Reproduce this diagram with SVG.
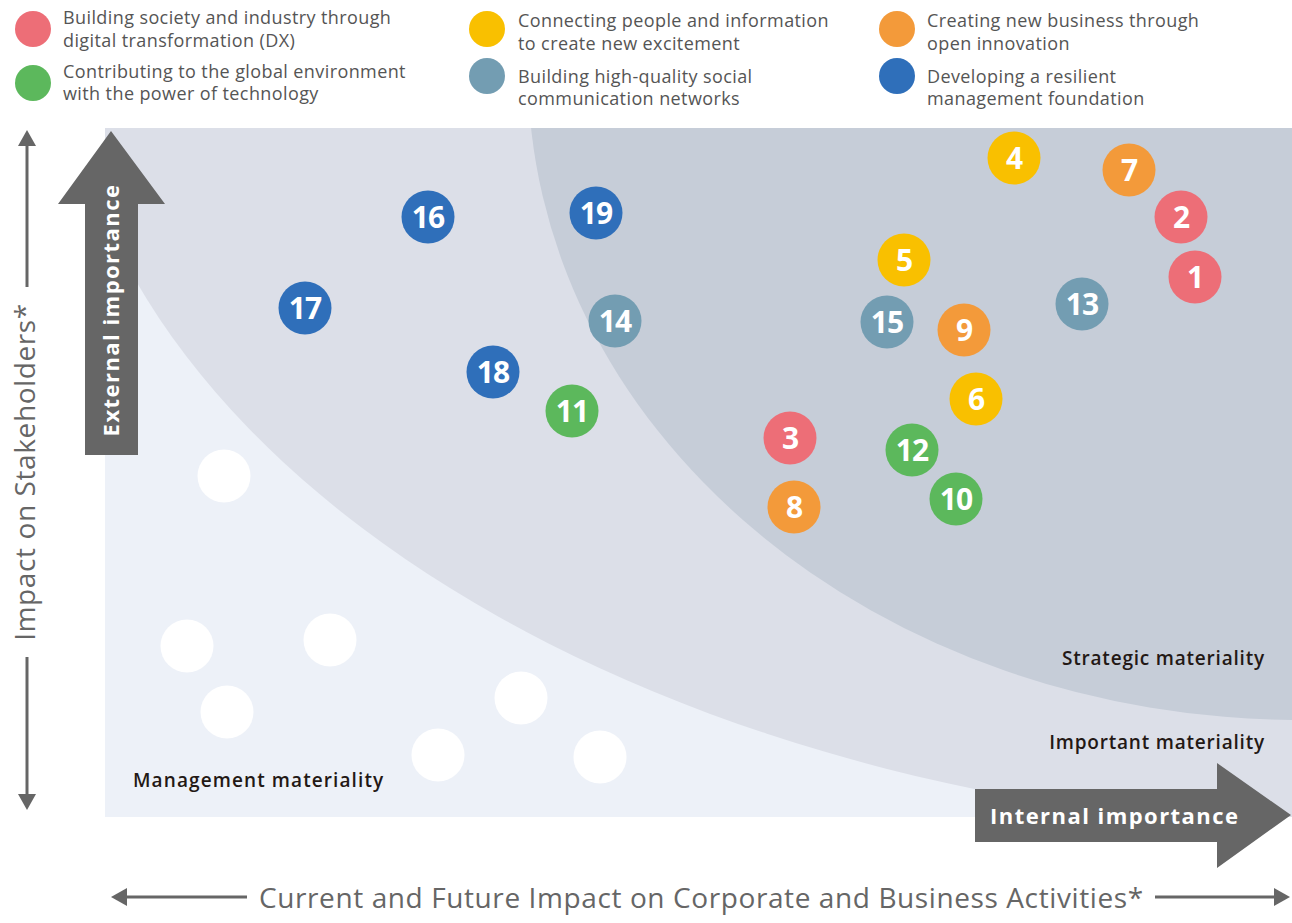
<svg xmlns="http://www.w3.org/2000/svg" width="1292" height="923" viewBox="0 0 1292 923">
<defs>
  <clipPath id="plot"><rect x="105" y="128" width="1187" height="689"/></clipPath>
  <style>
    .leg { font-family: "Open Sans", "Noto Sans", "Liberation Sans", sans-serif; font-size: 18px; fill: #555555; letter-spacing: 0.4px; }
    .axis { font-family: "Open Sans", "Noto Sans", "Liberation Sans", sans-serif; font-size: 28px; fill: #666666; letter-spacing: 0.6px; }
    .zone { font-family: "Open Sans", "Noto Sans", "Liberation Sans", sans-serif; font-size: 19px; font-weight: 600; fill: #231815; letter-spacing: 0.8px; }
    .zone.wide { letter-spacing: 1.1px; }
    .arrtxt { font-family: "Open Sans", "Noto Sans", "Liberation Sans", sans-serif; font-size: 22px; font-weight: 700; fill: #ffffff; letter-spacing: 1.45px; }
    .num { font-family: "Open Sans", "Noto Sans", "Liberation Sans", sans-serif; font-size: 30px; font-weight: 700; fill: #ffffff; text-anchor: middle; letter-spacing: -1px; }
    .dx { fill: #ed6e77; }
    .env { fill: #5cb85c; }
    .ppl { fill: #f9c000; }
    .net { fill: #739db2; }
    .opn { fill: #f39a3a; }
    .mgt { fill: #2f6fba; }
    .wht { fill: #ffffff; }
    .axline { stroke: #666666; stroke-width: 3; fill: none; }
    .head { fill: #666666; }
  </style>
</defs>

<g id="background">
  <rect x="105" y="128" width="1187" height="689" fill="#edf1f8"/>
  <g clip-path="url(#plot)">
    <ellipse cx="1400" cy="0" rx="1343" ry="832" fill="#dcdfe8"/>
    <ellipse cx="1300" cy="70" rx="772" ry="650" fill="#c6cdd8"/>
  </g>
</g>

<g id="legend">
  <g id="legend-dx"><circle cx="33" cy="29" r="18" class="dx"/>
    <text class="leg" x="63" y="24">Building society and industry through</text>
    <text class="leg" x="63" y="47">digital transformation (DX)</text></g>
  <g id="legend-env"><circle cx="33" cy="83" r="18" class="env"/>
    <text class="leg" x="63" y="78">Contributing to the global environment</text>
    <text class="leg" x="63" y="100">with the power of technology</text></g>
  <g id="legend-ppl"><circle cx="487" cy="29" r="18" class="ppl"/>
    <text class="leg" x="518" y="27">Connecting people and information</text>
    <text class="leg" x="518" y="50">to create new excitement</text></g>
  <g id="legend-net"><circle cx="487" cy="76" r="18" class="net"/>
    <text class="leg" x="518" y="83">Building high-quality social</text>
    <text class="leg" x="518" y="105">communication networks</text></g>
  <g id="legend-opn"><circle cx="897" cy="29" r="18" class="opn"/>
    <text class="leg" x="927" y="27">Creating new business through</text>
    <text class="leg" x="927" y="50">open innovation</text></g>
  <g id="legend-mgt"><circle cx="897" cy="76" r="18" class="mgt"/>
    <text class="leg" x="927" y="83">Developing a resilient</text>
    <text class="leg" x="927" y="105">management foundation</text></g>
</g>

<g id="zone-labels">
  <text class="zone" x="1265" y="665" text-anchor="end">Strategic materiality</text>
  <text class="zone" x="1265" y="749" text-anchor="end">Important materiality</text>
  <text class="zone wide" x="133" y="787">Management materiality</text>
</g>

<g id="other-issues">
  <circle cx="224" cy="476" r="26.5" class="wht"/>
  <circle cx="187" cy="646" r="26.5" class="wht"/>
  <circle cx="330" cy="640" r="26.5" class="wht"/>
  <circle cx="227" cy="712" r="26.5" class="wht"/>
  <circle cx="521" cy="698" r="26.5" class="wht"/>
  <circle cx="438" cy="755" r="26.5" class="wht"/>
  <circle cx="600" cy="757" r="26.5" class="wht"/>
</g>

<g id="node-1"><circle cx="1195" cy="277" r="26.5" class="dx"/><text class="num" x="1195" y="288">1</text></g>
<g id="node-2"><circle cx="1181" cy="217" r="26.5" class="dx"/><text class="num" x="1181" y="228">2</text></g>
<g id="node-3"><circle cx="790" cy="438" r="26.5" class="dx"/><text class="num" x="790" y="449">3</text></g>
<g id="node-4"><circle cx="1014" cy="158" r="26.5" class="ppl"/><text class="num" x="1014" y="169">4</text></g>
<g id="node-5"><circle cx="904" cy="260" r="26.5" class="ppl"/><text class="num" x="904" y="271">5</text></g>
<g id="node-6"><circle cx="976" cy="399" r="26.5" class="ppl"/><text class="num" x="976" y="410">6</text></g>
<g id="node-7"><circle cx="1129" cy="170" r="26.5" class="opn"/><text class="num" x="1129" y="181">7</text></g>
<g id="node-8"><circle cx="794" cy="507" r="26.5" class="opn"/><text class="num" x="794" y="518">8</text></g>
<g id="node-9"><circle cx="964" cy="330" r="26.5" class="opn"/><text class="num" x="964" y="341">9</text></g>
<g id="node-10"><circle cx="956" cy="499" r="26.5" class="env"/><text class="num" x="956" y="510">10</text></g>
<g id="node-11"><circle cx="572" cy="411" r="26.5" class="env"/><text class="num" x="572" y="422">11</text></g>
<g id="node-12"><circle cx="912" cy="450" r="26.5" class="env"/><text class="num" x="912" y="461">12</text></g>
<g id="node-13"><circle cx="1082" cy="304" r="26.5" class="net"/><text class="num" x="1082" y="315">13</text></g>
<g id="node-14"><circle cx="615" cy="321" r="26.5" class="net"/><text class="num" x="615" y="332">14</text></g>
<g id="node-15"><circle cx="887" cy="322" r="26.5" class="net"/><text class="num" x="887" y="333">15</text></g>
<g id="node-16"><circle cx="428" cy="217" r="26.5" class="mgt"/><text class="num" x="428" y="228">16</text></g>
<g id="node-17"><circle cx="305" cy="308" r="26.5" class="mgt"/><text class="num" x="305" y="319">17</text></g>
<g id="node-18"><circle cx="493" cy="372" r="26.5" class="mgt"/><text class="num" x="493" y="383">18</text></g>
<g id="node-19"><circle cx="596" cy="213" r="26.5" class="mgt"/><text class="num" x="596" y="224">19</text></g>

<g id="external-importance">
  <polygon points="85,455 85,204 58,204 111,131 165,204 138,204 138,455" fill="#666666"/>
  <text class="arrtxt" x="119" y="310" text-anchor="middle" transform="rotate(-90 119 310)">External importance</text>
</g>

<g id="internal-importance">
  <polygon points="975,789 1217,789 1217,763 1291,815 1217,868 1217,842 975,842" fill="#666666"/>
  <text class="arrtxt" x="990" y="824">Internal importance</text>
</g>

<g id="axes">
  <line class="axline" x1="27" y1="143" x2="27" y2="287"/>
  <polygon class="head" points="27,130 18,146 36,146"/>
  <line class="axline" x1="27" y1="657" x2="27" y2="796"/>
  <polygon class="head" points="27,810 18,794 36,794"/>
  <text class="axis" x="35" y="472" text-anchor="middle" transform="rotate(-90 35 472)">Impact on Stakeholders*</text>
  <line class="axline" x1="125" y1="897" x2="247" y2="897"/>
  <polygon class="head" points="111,897 127,888 127,906"/>
  <line class="axline" x1="1155" y1="897" x2="1276" y2="897"/>
  <polygon class="head" points="1290,897 1274,888 1274,906"/>
  <text class="axis" x="259" y="908">Current and Future Impact on Corporate and Business Activities*</text>
</g>
</svg>
